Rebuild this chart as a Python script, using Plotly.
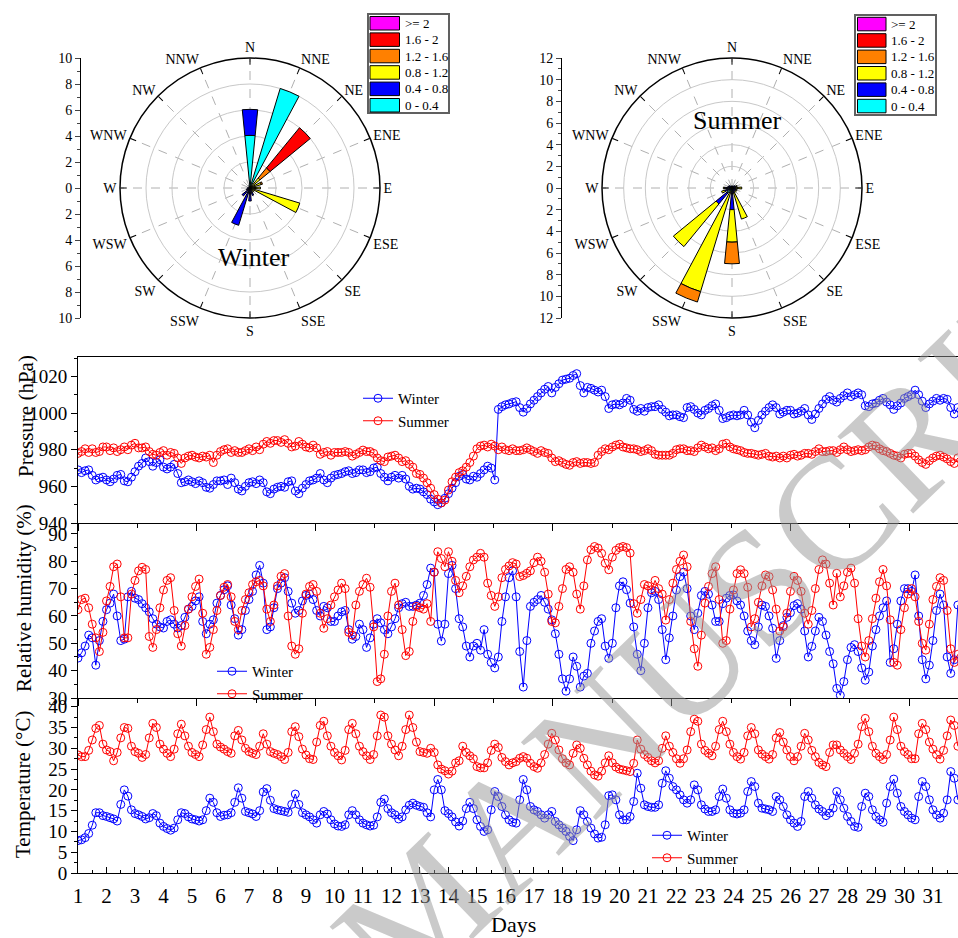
import numpy as np
import plotly.graph_objects as go

W, H = 958, 938
SERIF = "Liberation Serif"


def px(x):
    return x / W


def py(y):
    return 1 - y / H


# ---------------- wind rose data (frequency %, per speed bin, 16 directions) ----------------
directions = ["N", "NNE", "NE", "ENE", "E", "ESE", "SE", "SSE",
              "S", "SSW", "SW", "WSW", "W", "WNW", "NW", "NNW"]
speed_bins = ["0 - 0.4", "0.4 - 0.8", "0.8 - 1.2", "1.2 - 1.6", "1.6 - 2", ">= 2"]
bin_colors = ["#00ffff", "#0000ff", "#ffff00", "#ff8000", "#ff0000", "#ff00ff"]

winter_0_04 = [4.05, 8.0, 0, 0, 0, 0, 0, 0, 0, 0.3, 0, 0.1, 0.1, 0.1, 0.1, 0.2]
winter_04_08 = [2.0, 0, 0, 0, 0, 0, 0, 0.6, 1.0, 2.7, 0.8, 0.2, 0.1, 0, 0, 0]
winter_08_12 = [0, 0, 1.0, 0.9, 0.8, 4.0, 0.4, 0, 0, 0, 0, 0, 0, 0, 0, 0]
winter_12_16 = [0, 0, 1.0, 0.1, 0, 0, 0, 0, 0, 0, 0, 0, 0, 0, 0, 0]
winter_16_2 = [0, 0, 4.0, 0, 0, 0, 0, 0, 0, 0, 0, 0, 0, 0, 0, 0]
winter_ge2 = [0] * 16

summer_0_04 = [0.2, 0.2, 0.2, 0.2, 0.2, 0.2, 0.2, 0.2, 0.4, 0.3, 0.6, 0.3, 0.3, 0.2, 0.2, 0.2]
summer_04_08 = [0, 0, 0.1, 0.2, 0.2, 0.2, 0.2, 0.3, 1.6, 0, 1.3, 0.4, 0.4, 0.2, 0.1, 0]
summer_08_12 = [0, 0, 0, 0.1, 0.5, 0.1, 0.1, 2.5, 3.0, 9.7, 5.1, 0.3, 0.1, 0, 0, 0]
summer_12_16 = [0, 0, 0, 0, 0, 0, 0, 0, 2.0, 1.0, 0, 0, 0, 0, 0, 0]
summer_16_2 = [0] * 16
summer_ge2 = [0] * 16

winter_rose = [winter_0_04, winter_04_08, winter_08_12, winter_12_16, winter_16_2, winter_ge2]
summer_rose = [summer_0_04, summer_04_08, summer_08_12, summer_12_16, summer_16_2, summer_ge2]

# ---------------- time series (3-hourly samples, day 1.000 ... 31.875) ----------------
winter_pressure = [
    969, 967.5, 968.5, 969, 966, 963.5, 964.5, 965,
    963.5, 962.5, 964, 966, 966.5, 963, 962.5, 965,
    968, 971, 972.5, 975.5, 973.5, 971, 973, 974.5,
    970.5, 969.5, 970.5, 972, 967, 962, 962.5, 963.5,
    962.5, 961.5, 963, 962, 959.5, 959, 961, 963,
    963, 963.5, 961, 964.5, 962, 958.5, 957.5, 960,
    962, 962.5, 961.5, 963.5, 962, 957, 956, 958.5,
    959.5, 960, 959.5, 962.5, 963, 957.5, 956, 959,
    961, 963, 963.5, 964.5, 967, 963.5, 962, 964.5,
    966, 966.5, 967, 968, 968.5, 967, 967.5, 969,
    969, 967.5, 968, 970, 970.5, 967, 965, 963,
    965, 966, 964.5, 966, 964, 960, 958.5, 959,
    958.5, 957, 955.5, 953, 951.5, 950, 951, 953.5,
    956, 959, 962, 965.5, 966.5, 964, 963.5, 965.5,
    965, 967, 969, 971, 970, 963.5, 1002, 1003.5,
    1004.5, 1005, 1005.8, 1006.2, 1003, 1000.5, 1002.5, 1005,
    1007, 1009, 1011, 1013, 1014.5, 1011, 1014, 1016,
    1018, 1018.5, 1019, 1020.5, 1021.5, 1015, 1011, 1014,
    1013.5, 1012.5, 1011.5, 1012.5, 1009, 1002.5, 1004.5, 1005,
    1004.5, 1005.5, 1008, 1007, 1002, 1001, 1002.5, 1001,
    1003, 1003.5, 1003.5, 1004.5, 1002, 1000.5, 998.5, 999,
    999, 998, 997.5, 1003, 1003.5, 1002, 1000, 999,
    1001.5, 1002.5, 1004, 1005, 1001.5, 997, 997.5, 998.5,
    999, 998.5, 999, 1001.5, 999, 995, 992, 996,
    999, 1001, 1003, 1004.5, 1003, 999.5, 1000.5, 1001.5,
    1001.5, 999.5, 1000, 1001, 1002.5, 999, 996.5, 999.5,
    1002.5, 1005, 1007.5, 1009, 1007, 1006, 1008, 1009.5,
    1011, 1009, 1010, 1011, 1010, 1004, 1003.5, 1005,
    1005.5, 1007, 1008, 1006, 1004.5, 1002, 1004, 1005.5,
    1008, 1009, 1010, 1012.5, 1010, 1006.5, 1003, 1005,
    1006.5, 1008, 1007, 1008, 1007.5, 1003, 999.5, 1003,
]

summer_pressure = [
    978, 979, 980.5, 978.5, 980.5, 978.5, 979, 981.5,
    981.5, 979.5, 981, 979, 980, 981.5, 980, 982.5,
    983.5, 981, 981, 981.5, 979, 977.5, 977, 978.5,
    979.5, 977, 978.5, 978, 975.5, 972.5, 975.5, 976.5,
    977, 976, 975.5, 976.5, 976, 977, 973, 977,
    979, 980, 980.5, 978.5, 979.5, 978.5, 978.5, 979.5,
    980.5, 979.5, 981.5, 980, 983, 984.5, 983.5, 985,
    985, 984, 985.5, 983.5, 981.5, 982, 984.5, 983,
    981.5, 981, 982.5, 981, 977.5, 978.5, 979, 977,
    978.5, 978.5, 978.5, 979, 978.5, 976.5, 977.5, 978.5,
    979.8, 979, 979, 978, 975.5, 974, 973.5, 976,
    976.5, 977, 975.5, 973.5, 974, 972, 970.5, 967,
    966.5, 964.5, 962, 959, 955.5, 953, 951, 952.5,
    958, 962.5, 965, 967.5, 968.5, 970.5, 973, 976.5,
    980.5, 982, 982.5, 981.5, 983, 982, 980, 981.5,
    980, 979.5, 980.5, 979.5, 979.5, 980, 981, 980,
    979, 978, 979.5, 978.5, 978, 975.5, 973.5, 974,
    973, 972, 971.5, 973, 973.5, 972.5, 973, 973,
    972.5, 973, 977, 979, 980.5, 980, 981.5, 982.5,
    983, 981.5, 981, 980.5, 980.5, 980, 979, 979.5,
    980.5, 979.5, 977.5, 977, 977, 977, 977, 978,
    980, 980.5, 980.5, 979.5, 979.5, 979, 981, 982.5,
    981.5, 980.5, 981, 979.5, 980.5, 983, 983.5, 981.5,
    980.5, 980, 979.5, 978.5, 978, 978, 977.5, 977,
    977.5, 978, 976.5, 976, 976.5, 975.5, 976.5, 975.5,
    977, 977.5, 976.5, 977, 978, 978, 977.5, 979,
    980.5, 979, 979, 979.5, 979.5, 978.5, 980, 981.5,
    980, 979, 979.5, 980, 979.5, 980, 981.5, 982.5,
    982, 980.5, 979.5, 979, 978, 977, 976.5, 975.5,
    977.5, 978, 978, 976.5, 974.5, 973, 972, 974,
    975.5, 976.5, 977, 976, 975, 973.5, 972.5, 975.5,
]

winter_rh = [
    44.6, 46.5, 49, 53, 52, 42, 51, 58,
    62.3, 64.7, 68, 60, 51, 51.5, 67, 69,
    66.5, 66, 64.5, 63, 61.5, 59, 57, 56,
    55.6, 58, 58.6, 57, 55.6, 56.5, 59.5, 62.5,
    63.5, 65.5, 67, 58, 53.5, 57, 58.6, 64.7,
    67.5, 69.6, 71, 64, 59, 53, 55, 62,
    66, 69, 75, 78.5, 72, 55, 56, 63,
    70, 72, 74, 69, 64.7, 61, 62, 65.5,
    67.5, 68, 66, 62, 60, 63.5, 63, 58,
    58, 60, 61.5, 62, 55, 51.5, 52.5, 57,
    55, 48.5, 52, 57, 59, 57.5, 55, 53.5,
    56, 59, 63, 64.5, 65, 63.5, 63.5, 64,
    64.7, 67.5, 71.5, 77.5, 76, 57, 50.8, 57,
    75.5, 78.5, 70, 59, 56, 49, 45, 49,
    50, 47.5, 55, 46, 43, 41, 45, 58,
    67, 74, 76.5, 67, 47, 34, 51, 63.5,
    65, 66, 67.5, 65, 62.5, 58.6, 53.5, 46,
    37, 32.5, 37, 45, 41.6, 34, 38, 39,
    50, 54.5, 58, 59, 49, 44.5, 50, 63,
    71, 72.5, 69.6, 64.7, 56, 46, 40, 50,
    63, 68.5, 69, 66, 55, 44, 52, 60,
    69.5, 74.4, 76, 70, 60, 55, 61, 67.5,
    69, 68, 64, 58, 58, 64.5, 66.5, 67.5,
    67.7, 65.5, 64, 60, 54.5, 51, 49.5, 56,
    64, 63.5, 60, 55.5, 44.5, 51, 56.5, 59.5,
    61.2, 63.8, 64.5, 62.5, 54.5, 45, 48.9, 54.5,
    59.5, 58, 53, 47, 42.5, 33.5, 31, 36,
    44, 48.5, 49.5, 47, 41, 36.5, 39.5, 49,
    55, 60, 63, 65.5, 43, 48, 57, 65.5,
    70, 70, 69, 75, 60, 44, 37, 42,
    51, 62, 68, 64, 45, 39, 44, 64,
]

summer_rh = [
    62.3, 66, 66.5, 63, 57, 52, 47, 54,
    65.5, 70.8, 78, 79, 67, 52, 52, 68,
    73, 76.5, 77.8, 77, 52.5, 48.5, 55, 63,
    69.5, 73, 74, 62, 53.5, 49, 56.5, 62.5,
    67, 70.8, 73.5, 61, 46, 48.5, 55, 62,
    67.5, 70.5, 71.5, 67, 58, 55, 62, 66,
    68.5, 71.5, 72.5, 73, 71, 62.5, 58, 64,
    71, 74.5, 75.5, 60, 49, 46, 48, 61,
    68, 70.8, 71.5, 69, 61, 55.5, 59, 64,
    67, 69.5, 72, 70, 54, 53, 64, 69,
    71.5, 73.8, 70.5, 56, 36, 37, 46, 60,
    69, 72, 64, 55, 45.5, 47, 58, 63.5,
    63, 62.5, 64.5, 58, 76, 83.5, 81, 78,
    83.5, 80, 73, 68.5, 71, 74.5, 78, 80.5,
    81.5, 82.9, 81.5, 72, 67.5, 63.5, 67, 74,
    77, 78.3, 79.5, 79, 74.4, 74.8, 75.6, 76.5,
    79.5, 81.5, 80, 76, 68, 58, 57.5, 63.5,
    70, 77, 78, 76, 68, 62.5, 71, 80.5,
    84.2, 85.4, 84.8, 82.9, 79.3, 76.9, 81.5, 84,
    85, 85.4, 85, 83, 64.5, 61, 66, 71.5,
    71, 69.6, 73, 70, 68, 58.5, 66, 72,
    77, 80, 82.3, 78, 58, 48, 41.6, 53,
    64.7, 70.8, 75.5, 78, 66, 50, 51, 62.5,
    69.5, 75.5, 76.9, 75.5, 70.5, 56, 59, 65,
    71, 75, 74.4, 69.5, 62.5, 54.5, 56, 61,
    69, 74.5, 73, 69, 61, 57, 62, 70,
    77, 80.5, 79, 72, 64, 75.6, 67, 71,
    76, 77.5, 72, 59, 49, 45, 51, 59,
    66.5, 72.5, 77, 71, 58.6, 43, 42, 55,
    63, 68, 70, 67, 58, 50, 47.5, 57,
    66, 70.8, 74, 73, 62, 48, 43, 46,
]

winter_temp = [
    7.8, 8.0, 8.5, 9.5, 11.5, 14.5, 14.5, 13.8,
    13.6, 13.3, 13.0, 12.5, 16.5, 20.0, 18.5, 15.2,
    14.3, 14.0, 13.6, 13.0, 13.3, 14.3, 13.8, 12.0,
    11.2, 10.7, 10.3, 10.8, 12.8, 14.5, 14.3, 13.5,
    13.0, 12.8, 12.5, 12.8, 15.0, 18.0, 17.0, 14.5,
    13.6, 13.9, 14.0, 14.5, 17.0, 20.5, 18.0, 14.8,
    14.5, 14.2, 13.6, 15.0, 19.5, 20.3, 17.5, 15.5,
    15.2, 15.0, 14.8, 14.6, 16.5, 19.0, 16.5, 14.5,
    14.0, 13.5, 12.8, 12.0, 14.0, 14.8, 14.2, 12.8,
    11.8, 11.3, 11.2, 11.6, 14.0, 15.0, 14.0, 12.8,
    12.0, 11.6, 11.3, 11.5, 13.5, 17.0, 17.8, 15.5,
    14.5, 14.0, 13.0, 13.5, 15.2, 16.3, 16.8, 16.3,
    16.0, 15.8, 14.5, 13.5, 20.0, 22.5, 20.0, 15.0,
    14.3, 13.5, 12.3, 11.3, 12.5, 15.5, 17.0, 15.5,
    12.8, 11.2, 10.0, 10.4, 15.2, 19.6, 18.4, 16.0,
    14.0, 12.8, 12.2, 12.0, 17.6, 22.5, 20.0, 16.0,
    15.2, 14.8, 14.0, 13.2, 14.0, 14.8, 12.4, 11.6,
    10.8, 10.0, 8.8, 7.8, 10.4, 15.0, 14.0, 12.4,
    10.8, 9.4, 8.4, 8.6, 11.6, 18.6, 18.8, 17.6,
    14.0, 12.8, 12.8, 13.6, 17.2, 24.0, 20.4, 16.4,
    16.0, 15.8, 15.8, 16.4, 21.6, 24.6, 22.8, 20.8,
    20.0, 18.8, 17.6, 16.8, 17.6, 21.2, 20.0, 16.4,
    15.4, 14.8, 14.8, 15.2, 18.4, 20.2, 18.0, 15.2,
    14.4, 14.2, 14.4, 15.2, 19.6, 22.0, 20.8, 16.8,
    15.6, 15.4, 15.2, 14.8, 18.4, 17.6, 16.0, 14.0,
    12.8, 12.0, 11.2, 12.4, 18.4, 19.6, 18.0, 16.4,
    15.4, 14.8, 13.8, 14.4, 15.6, 19.6, 17.6, 15.6,
    13.6, 12.4, 11.2, 11.0, 16.0, 19.2, 18.4, 15.2,
    13.6, 12.8, 12.2, 16.8, 20.8, 22.6, 19.2, 16.0,
    14.8, 14.0, 13.2, 12.8, 18.4, 22.0, 20.8, 17.6,
    15.2, 14.0, 13.2, 14.4, 17.6, 24.4, 22.8, 17.6,
]

summer_temp = [
    28.4, 28.0, 28.0, 29.5, 32.0, 34.8, 35.5, 31.0,
    29.6, 29.2, 27.0, 29.0, 32.5, 35.0, 34.8, 30.5,
    29.2, 28.8, 27.8, 28.5, 32.5, 36.0, 35.0, 31.0,
    29.8, 28.8, 28.0, 29.8, 33.5, 35.8, 33.0, 30.5,
    29.0, 28.5, 28.0, 30.8, 34.5, 37.5, 34.0, 31.0,
    30.3, 29.8, 29.2, 28.8, 33.0, 34.3, 32.0, 30.0,
    29.2, 28.8, 28.5, 30.5, 33.5, 31.0, 29.2, 28.8,
    28.5, 28.0, 27.3, 29.0, 34.0, 35.2, 32.8, 29.8,
    28.4, 27.5, 27.3, 31.5, 35.5, 36.5, 33.0, 30.5,
    29.0, 28.2, 27.2, 29.5, 34.5, 36.0, 33.5, 30.5,
    29.2, 28.2, 27.3, 28.5, 33.0, 38.0, 37.5, 33.0,
    31.0, 29.6, 28.2, 30.5, 34.5, 38.0, 35.0, 31.5,
    29.2, 29.0, 28.8, 30.0, 29.0, 26.0, 25.0, 24.6,
    23.8, 24.5, 26.5, 27.0, 30.5, 29.0, 28.2, 27.5,
    25.6, 25.3, 25.3, 26.5, 29.5, 31.0, 30.2, 27.8,
    26.8, 26.0, 26.5, 26.8, 27.6, 28.0, 27.6, 26.4,
    25.6, 25.2, 26.5, 28.5, 31.0, 33.6, 32.0, 29.6,
    27.5, 26.5, 26.0, 28.8, 30.8, 30.0, 27.6, 26.0,
    24.5, 23.6, 23.3, 24.5, 26.5, 28.2, 26.5, 25.5,
    25.0, 24.8, 24.6, 24.4, 26.4, 32.0, 29.8, 28.5,
    27.8, 27.0, 26.5, 27.0, 30.0, 33.0, 30.5, 29.0,
    27.5, 26.4, 27.5, 29.6, 34.0, 37.0, 36.5, 31.0,
    29.5, 28.8, 28.2, 30.5, 34.5, 36.5, 34.0, 31.0,
    29.0, 28.0, 27.4, 29.0, 33.0, 35.0, 33.5, 29.6,
    28.6, 28.0, 27.4, 28.5, 32.5, 33.8, 31.5, 29.6,
    28.0, 27.0, 28.0, 30.5, 33.6, 32.0, 29.5, 28.0,
    26.6, 26.0, 25.6, 29.0, 30.8, 30.8, 29.6, 28.8,
    28.0, 27.3, 28.8, 31.0, 35.2, 37.2, 34.0, 30.5,
    28.8, 28.0, 27.3, 28.5, 32.0, 37.5, 34.5, 30.5,
    29.2, 28.5, 27.5, 27.5, 33.5, 36.0, 34.5, 31.5,
    29.8, 28.5, 27.4, 29.5, 33.0, 36.8, 35.5, 30.5,
]

day_ticks = list(range(1, 32))
day_labels = [str(d) for d in day_ticks]
samples_per_day = 8
days = 1 + np.arange(len(winter_temp)) / samples_per_day

WINTER_C = "#0000ff"
SUMMER_C = "#ff0000"

fig = go.Figure()

# ---------------- wind roses ----------------
theta_deg = [i * 22.5 for i in range(len(directions))]
for name, rose in (("polar", winter_rose), ("polar2", summer_rose)):
    for b, (lab, col) in enumerate(zip(speed_bins, bin_colors)):
        fig.add_trace(go.Barpolar(
            r=rose[b], theta=theta_deg, width=[11.25] * len(directions),
            marker=dict(color=col, line=dict(color="black", width=1)),
            name=lab, showlegend=False, subplot=name, hoverinfo="skip"))


def polar_layout(x0, x1, rmax, rticks):
    return dict(
        domain=dict(x=[px(x0), px(x1)], y=[py(318), py(58)]),
        bgcolor="white",
        barmode="stack",
        angularaxis=dict(
            rotation=90, direction="clockwise", thetaunit="degrees",
            tickmode="array", tickvals=theta_deg, ticktext=directions,
            tickfont=dict(family=SERIF, size=14, color="black"),
            showline=True, linecolor="black", linewidth=1.5,
            ticks="inside", ticklen=6, tickcolor="black",
            showgrid=True, gridcolor="#b0b0b0", gridwidth=1, griddash="dash"),
        radialaxis=dict(range=[0, rmax], tickvals=rticks, showticklabels=False,
                        ticks="", showline=False, gridcolor="#c8c8c8", gridwidth=1),
    )


# left vertical scales of the roses
winter_scale = list(range(-10, 11, 2))
summer_scale = list(range(-12, 13, 2))
for ax in ("4", "5"):
    fig.add_trace(go.Scatter(x=[0.5], y=[0], xaxis="x" + ax, yaxis="y" + ax, mode="markers",
                             marker=dict(opacity=0), showlegend=False, hoverinfo="skip"))

# ---------------- time series ----------------
series = [
    (winter_pressure, summer_pressure, "x", "y", "legend"),
    (winter_rh, summer_rh, "x2", "y2", "legend2"),
    (winter_temp, summer_temp, "x3", "y3", "legend3"),
]
for wv, sv, xa, ya, lg in series:
    for vals, nm, col in ((wv, "Winter", WINTER_C), (sv, "Summer", SUMMER_C)):
        fig.add_trace(go.Scatter(
            x=days, y=vals, name=nm, mode="lines+markers", xaxis=xa, yaxis=ya, legend=lg,
            line=dict(color=col, width=1),
            marker=dict(symbol="circle-open", size=8, color=col, line=dict(width=1, color=col))))

tick_font = dict(family=SERIF, size=19, color="black")
xr = [1, 31.88]
x_common = dict(domain=[px(78), 1], range=xr, showgrid=False, zeroline=False,
                showline=True, linecolor="black", linewidth=1)
top_x_ticks = dict(ticks="outside", tick0=1, dtick=100 / 24, ticklen=7, tickcolor="black",
                   minor=dict(ticks="outside", tick0=1, dtick=50 / 24, ticklen=4, tickcolor="black"),
                   showticklabels=False)
y_common = dict(showgrid=False, zeroline=False, showline=True, linecolor="black", linewidth=1,
                ticks="outside", ticklen=6, tickcolor="black", tickfont=tick_font,
                automargin=False)

legend_common = dict(xanchor="left", yanchor="top", bgcolor="rgba(0,0,0,0)",
                     font=dict(family=SERIF, size=15, color="black"), tracegroupgap=0,
                     itemclick=False)

fig.update_layout(
    width=W, height=H, autosize=False,
    margin=dict(l=0, r=0, t=0, b=0, pad=0),
    paper_bgcolor="white", plot_bgcolor="white",
    font=dict(family=SERIF, color="black"),
    polar=polar_layout(120, 380, 10, [2, 4, 6, 8]),
    polar2=polar_layout(602, 862, 12, [2, 4, 6, 8, 10]),
    xaxis=dict(**x_common, anchor="y", mirror=True, automargin=False, **top_x_ticks),
    yaxis=dict(**y_common, domain=[py(523), py(357)], range=[940, 1030.6], tick0=940, dtick=20,
               minor=dict(ticks="outside", dtick=10, ticklen=3, tickcolor="black"), anchor="x"),
    xaxis2=dict(**x_common, anchor="y2", matches="x", automargin=False, **top_x_ticks),
    yaxis2=dict(**y_common, domain=[py(698), py(523)], range=[30, 94.0], tick0=30, dtick=10,
                minor=dict(ticks="outside", dtick=5, ticklen=3, tickcolor="black"), anchor="x2"),
    xaxis3=dict(**x_common, anchor="y3", matches="x", ticks="inside", tickmode="array",
                tickvals=day_ticks, ticktext=day_labels, ticklen=6, tickcolor="black",
                ticklabelstandoff=4, automargin=False,
                minor=dict(ticks="inside", dtick=0.5, tick0=1, ticklen=3, tickcolor="black"),
                tickfont=dict(family=SERIF, size=21, color="black")),
    yaxis3=dict(**y_common, domain=[py(873), py(698)], range=[0, 42.1], tick0=0, dtick=5,
                minor=dict(ticks="outside", dtick=2.5, ticklen=3, tickcolor="black"), anchor="x3"),
    xaxis4=dict(domain=[px(81), px(82)], range=[0, 1], visible=False, anchor="y4"),
    yaxis4=dict(domain=[py(318), py(58)], range=[-10, 10], anchor="x4", tickmode="array",
                tickvals=winter_scale, ticktext=[str(abs(v)) for v in winter_scale],
                showline=True, linecolor="black", linewidth=1, ticks="outside", ticklen=5,
                minor=dict(ticks="outside", dtick=1, ticklen=3), showgrid=False, zeroline=False,
                automargin=False, tickfont=dict(family=SERIF, size=14, color="black")),
    xaxis5=dict(domain=[px(562), px(563)], range=[0, 1], visible=False, anchor="y5"),
    yaxis5=dict(domain=[py(318), py(58)], range=[-12, 12], anchor="x5", tickmode="array",
                tickvals=summer_scale, ticktext=[str(abs(v)) for v in summer_scale],
                showline=True, linecolor="black", linewidth=1, ticks="outside", ticklen=5,
                minor=dict(ticks="outside", dtick=1, ticklen=3), showgrid=False, zeroline=False,
                automargin=False, tickfont=dict(family=SERIF, size=14, color="black")),
    legend=dict(**legend_common, x=px(358), y=py(382)),
    legend2=dict(**legend_common, x=px(212), y=py(655)),
    legend3=dict(**legend_common, x=px(647), y=py(819)),
)

# ---------------- manual wind-rose legends ----------------
shapes = []
annotations = []
for (bx0, by0, bx1, by1, sx0, sx1, row0) in ((368, 14, 449, 113, 370, 399.5, 16.5),
                                            (855, 15, 936, 115, 857.5, 886, 17.3)):
    shapes.append(dict(type="rect", xref="paper", yref="paper", x0=px(bx0), x1=px(bx1),
                       y0=py(by1), y1=py(by0), line=dict(color="#606060", width=2),
                       fillcolor="white", layer="above"))
    for i, (lab, col) in enumerate(zip(speed_bins[::-1], bin_colors[::-1])):
        top = row0 + i * 16.4
        shapes.append(dict(type="rect", xref="paper", yref="paper", x0=px(sx0), x1=px(sx1),
                           y0=py(top + 13.5), y1=py(top), line=dict(color="black", width=1),
                           fillcolor=col, layer="above"))
        annotations.append(dict(xref="paper", yref="paper", x=px(sx1 + 3), y=py(top + 6.8),
                                text=lab, showarrow=False, xanchor="left", yanchor="middle",
                                font=dict(family=SERIF, size=13, color="black")))


def label(x, y, text, size, angle=0, color="black"):
    return dict(xref="paper", yref="paper", x=px(x), y=py(y), text=text, showarrow=False,
                xanchor="center", yanchor="middle", textangle=angle,
                font=dict(family=SERIF, size=size, color=color))


annotations += [
    label(253, 258, "Winter", 26),
    label(737, 120, "Summer", 26),
    label(26, 416, "Pressure (hPa)", 21, -90),
    label(24, 598, "Relative humidity (%)", 21, -90),
    label(23, 785, "Temperature (°C)", 21, -90),
    label(513, 924, "Days", 22),
    label(745, 598, "MANUSCRIPT", 165, -44, "rgba(150,150,150,0.5)"),
]
fig.update_layout(shapes=shapes, annotations=annotations)

fig.write_html("out.html", config={"displayModeBar": False},
               post_script="document.body.style.margin='0px';document.body.style.overflow='hidden';")
